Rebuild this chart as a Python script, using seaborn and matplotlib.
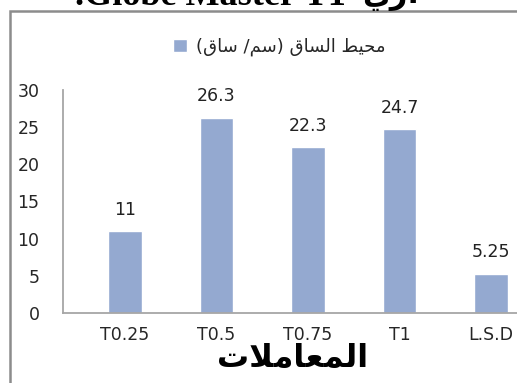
import matplotlib
matplotlib.use("Agg")
import matplotlib.pyplot as plt
import seaborn as sns
from matplotlib.patches import Rectangle

# Treatments and stem circumference values (cm / stem)
categories = ["T0.25", "T0.5", "T0.75", "T1", "L.S.D"]
values = [11, 26.3, 22.3, 24.7, 5.25]
y_ticks = [0, 5, 10, 15, 20, 25, 30]

# Arabic strings written in shaped, visual (left-to-right) order
series_label = ("(\ufed5\ufe8e\ufeb3 /\ufee2\ufeb3) "
                "\ufed5\ufe8e\ufeb4\ufedf\ufe8d "
                "\ufec2\ufef4\ufea4\ufee3")          # محيط الساق (سم/ ساق)
x_title = "\ufe95\ufefc\ufee3\ufe8e\ufecc\ufee4\ufedf\ufe8d"  # المعاملات
caption_latin = ".Globe Master T1"
caption_arabic = "\ufef1\ufead."

sns.set_theme(style="white")
plt.rcParams["font.family"] = ["DejaVu Sans"]

bar_color = "#94A9D0"
axis_gray = "#A6A6A6"

fig = plt.figure(figsize=(5.17, 3.83), dpi=100)
ax = fig.add_axes([63 / 517, 70 / 383, 454 / 517, 223 / 383])

sns.barplot(x=categories, y=values, color=bar_color, saturation=1,
            width=0.37, ax=ax, label=series_label)

ax.set_xlim(-0.678, 4.284)
ax.set_ylim(0, 30)
ax.set_yticks(y_ticks)
ax.set_yticklabels([str(t) for t in y_ticks], fontsize=12.5)
ax.tick_params(axis="y", length=0, pad=17)
ax.tick_params(axis="x", length=0, pad=9, labelsize=12.5)
ax.set_xlabel("")
ax.set_ylabel("")

for side in ("top", "right"):
    ax.spines[side].set_visible(False)
for side in ("left", "bottom"):
    ax.spines[side].set_color(axis_gray)
    ax.spines[side].set_linewidth(1.3)

for container in ax.containers:
    ax.bar_label(container, labels=[f"{v:g}" for v in values],
                 padding=9, fontsize=12.5, color="#222222")

# Axis title under the category labels
fig.text(293 / 517, 1 - 359 / 383, x_title, ha="center", va="center",
         fontsize=23, fontweight="bold", color="black")

# Legend above the plot
handles, labels = ax.get_legend_handles_labels()
ax.legend(handles[:1], labels[:1], loc="center",
          bbox_to_anchor=(279 / 517, 1 - 47 / 383),
          bbox_transform=fig.transFigure, frameon=False,
          fontsize=13, handlelength=0.75, handleheight=0.75,
          handletextpad=0.5)

# Outer chart frame
fig.patches.append(Rectangle((10 / 517, -0.1), 1.2, (1 - 11 / 383) + 0.1,
                             transform=fig.transFigure, fill=False,
                             edgecolor="#8C8C8C", linewidth=1.8,
                             clip_on=False))

# Caption line partly running off the top edge
fig.text(75 / 517, 1 - 5 / 383, caption_latin, ha="left", va="baseline",
         fontsize=26, fontweight="bold", family="Liberation Serif",
         color="black")
fig.text(362 / 517, 1 - 3 / 383, caption_arabic, ha="left", va="baseline",
         fontsize=22, fontweight="bold", color="black")

fig.savefig("out.png", dpi=100)
